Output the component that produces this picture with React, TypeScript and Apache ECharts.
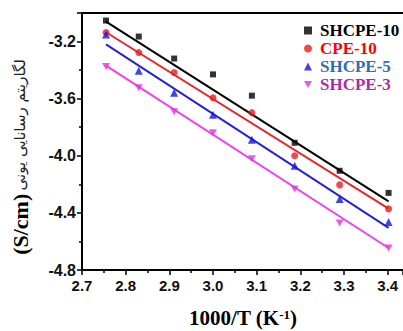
import React, { useEffect, useRef } from "react";
import * as echarts from "echarts";

const xValues = [2.755, 2.83, 2.911, 3.0, 3.089, 3.187, 3.29, 3.402];
const shcpe10 = [-3.053, -3.165, -3.319, -3.43, -3.579, -3.909, -4.105, -4.26];
const cpe10 = [-3.137, -3.277, -3.417, -3.593, -3.698, -4.0, -4.204, -4.372];
const shcpe5 = [-3.151, -3.404, -3.558, -3.712, -3.888, -4.07, -4.302, -4.463];
const shcpe3 = [-3.375, -3.523, -3.691, -3.839, -4.021, -4.232, -4.47, -4.646];
// fitted lines: [start, end] values at first and last x
const fit10 = [-3.06, -4.32];
const fitC10 = [-3.135, -4.37];
const fit5 = [-3.22, -4.505];
const fit3 = [-3.368, -4.646];

const names = ["SHCPE-10", "CPE-10", "SHCPE-5", "SHCPE-3"];
const markerColors = ["#000000", "#ee1c1c", "#1515e0", "#e033e0"];
const lineColors = ["#000000", "#e8262a", "#2323d8", "#f040f0"];
const legendTextColors = ["#000000", "#ff0000", "#2e6eb5", "#b02aa8"];
const symbols = ["rect", "circle", "triangle", "path://M0,0 L10,0 L5,9 Z"];
const symbolSizes: any[] = [6, 7, 8, [8, 7]];

export default function App() {
  const ref = useRef<HTMLDivElement>(null);
  useEffect(() => {
    if (!ref.current) return;
    const chart = echarts.init(ref.current, null, { renderer: "svg" });
    const all = [shcpe10, cpe10, shcpe5, shcpe3];
    const fits = [fit10, fitC10, fit5, fit3];
    const series: any[] = [];
    all.forEach((vals, i) => {
      series.push({
        type: "line",
        name: names[i] + "-fit",
        data: [
          [xValues[0], fits[i][0]],
          [xValues[xValues.length - 1], fits[i][1]],
        ],
        showSymbol: false,
        symbol: "none",
        lineStyle: { color: lineColors[i], width: 2 },
        z: 2,
      });
    });
    all.forEach((vals, i) => {
      series.push({
        type: "scatter",
        name: names[i],
        data: vals.map((v, j) => [xValues[j], v]),
        symbol: symbols[i],
        symbolSize: symbolSizes[i],
        itemStyle: { color: markerColors[i] },
        z: 3,
      });
    });
    const tickLabel = {
      fontFamily: "Liberation Sans, Arial, sans-serif",
      fontWeight: "bold",
      fontSize: 15,
      color: "#111",
    };
    chart.setOption({
      animation: false,
      grid: { left: 82, top: 13, right: 0, bottom: 61, containLabel: false },
      legend: {
        orient: "vertical",
        left: 299,
        top: 17,
        itemWidth: 8,
        itemHeight: 8,
        itemGap: 1,
        data: names.map((n, i) => ({
          name: n,
          textStyle: { color: legendTextColors[i] },
        })),
        textStyle: {
          fontFamily: "Liberation Serif, Times New Roman, serif",
          fontWeight: "bold",
          fontSize: 17,
          padding: [0, 0, 0, 3],
        },
      },
      xAxis: [
        {
          type: "value",
          min: 2.7,
          max: 3.435,
          interval: 0.1,
          axisLine: { show: true, lineStyle: { color: "#000", width: 2 } },
          axisTick: { show: true, inside: false, length: 5, lineStyle: { color: "#000", width: 1.5 } },
          minorTick: { show: true, splitNumber: 2, length: 3, lineStyle: { color: "#000", width: 1.5 } },
          splitLine: { show: false },
          axisLabel: {
            ...tickLabel,
            margin: 8,
            showMaxLabel: false,
            formatter: (v: number) => v.toFixed(1),
          },
        },
        {
          type: "value",
          position: "top",
          min: 2.7,
          max: 3.435,
          axisLine: { show: true, lineStyle: { color: "#000", width: 2 } },
          axisTick: { show: false },
          axisLabel: { show: false },
          splitLine: { show: false },
        },
      ],
      yAxis: {
        type: "value",
        min: -4.8,
        max: -3.0,
        interval: 0.4,
        axisLine: { show: true, lineStyle: { color: "#000", width: 2 } },
        axisTick: { show: true, inside: false, length: 5, lineStyle: { color: "#000", width: 1.5 } },
        minorTick: { show: true, splitNumber: 2, length: 3, lineStyle: { color: "#000", width: 1.5 } },
        splitLine: { show: false },
        axisLabel: {
          ...tickLabel,
          fontSize: 16,
          margin: 6,
          showMaxLabel: false,
          formatter: (v: number) => v.toFixed(1),
        },
      },
      graphic: [
        {
          type: "text",
          x: 243,
          y: 318,
          style: {
            text: "1000/T (K{sup|-1})",
            fontFamily: "Liberation Serif, Times New Roman, serif",
            fontWeight: "bold",
            fontSize: 21,
            fill: "#000",
            align: "center",
            verticalAlign: "middle",
            rich: {
              sup: {
                fontFamily: "Liberation Serif, Times New Roman, serif",
                fontWeight: "bold",
                fontSize: 13,
                verticalAlign: "top",
                padding: [0, 0, 8, 0],
              },
            },
          },
        },
        {
          type: "text",
          x: 20,
          y: 157,
          rotation: Math.PI / 2,
          style: {
            text: "{a|(S/cm)} {b|لگاریتم رسانایی یونی}",
            align: "center",
            verticalAlign: "middle",
            fill: "#000",
            rich: {
              a: {
                fontFamily: "Liberation Serif, Times New Roman, serif",
                fontWeight: "bold",
                fontSize: 22,
                fill: "#000",
              },
              b: {
                fontFamily: "DejaVu Sans, sans-serif",
                fontSize: 15,
                fill: "#222",
              },
            },
          },
        },
      ],
      series,
    });
    return () => chart.dispose();
  }, []);
  return <div ref={ref} style={{ width: 403, height: 331, position: "absolute", left: 0, top: 0, background: "#fff" }} />;
}
